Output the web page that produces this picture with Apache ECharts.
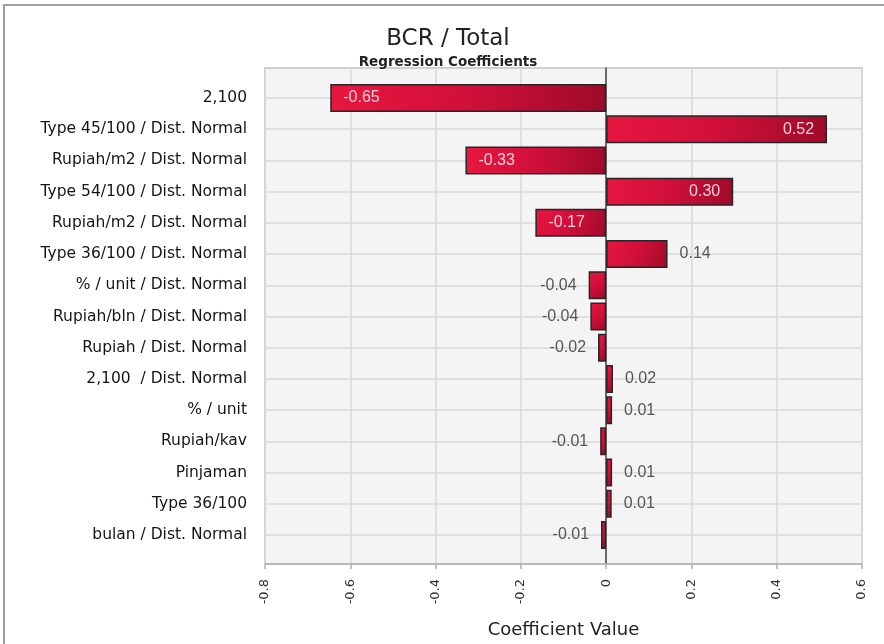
<!DOCTYPE html>
<html><head><meta charset="utf-8">
<script src="https://cdn.jsdelivr.net/npm/echarts@6/dist/echarts.min.js"></script>
<style>html,body{margin:0;padding:0;background:#fff}#c{width:884px;height:644px}</style>
</head><body><div id="c"></div>
<script>
const categories = [
  "2,100",
  "Type 45/100 / Dist. Normal",
  "Rupiah/m2 / Dist. Normal",
  "Type 54/100 / Dist. Normal",
  "Rupiah/m2 / Dist. Normal",
  "Type 36/100 / Dist. Normal",
  "% / unit / Dist. Normal",
  "Rupiah/bln / Dist. Normal",
  "Rupiah / Dist. Normal",
  "2,100  / Dist. Normal",
  "% / unit",
  "Rupiah/kav",
  "Pinjaman",
  "Type 36/100",
  "bulan / Dist. Normal"
];
const coefficients = [-0.647, 0.518, -0.330, 0.298, -0.166, 0.144, -0.041, -0.037, -0.019, 0.016, 0.014, -0.014, 0.014, 0.013, -0.012];
const xMin = -0.8, xMax = 0.6, xInterval = 0.2;
const titleText = "BCR / Total";
const subtitleText = "Regression Coefficients";
const xAxisTitle = "Coefficient Value";

const L = 265, R = 884 - 862;
const barData = coefficients.map(v => {
  const inside = Math.abs(v) > 0.15;
  return {
    value: v,
    label: {
      show: true,
      position: inside ? (v < 0 ? 'insideLeft' : 'insideRight') : (v < 0 ? 'left' : 'right'),
      distance: inside ? 13 : 12,
      color: inside ? '#f4d2da' : '#555',
      fontFamily: 'Liberation Sans',
      fontSize: 16,
      formatter: p => p.value.toFixed(2)
    }
  };
});

const chart = echarts.init(document.getElementById('c'), null, {renderer: 'canvas'});
chart.setOption({
  animation: false,
  backgroundColor: '#fff',
  graphic: [{
    type: 'rect', shape: {x: 4, y: 5, width: 900, height: 700},
    style: {fill: null, stroke: '#a0a0a0', lineWidth: 2}, z: -10
  }],
  title: {
    text: titleText, subtext: subtitleText,
    left: 443, top: 23, textAlign: 'center', itemGap: 4,
    textStyle: {fontFamily: 'DejaVu Sans', fontSize: 23, fontWeight: 'normal', color: '#222'},
    subtextStyle: {fontFamily: 'DejaVu Sans', fontSize: 13.5, fontWeight: 'bold', color: '#222'}
  },
  grid: [
    {left: L, right: R, top: 68, bottom: 644 - 568, show: true, backgroundColor: '#f4f4f4', borderColor: '#cfcfcf', borderWidth: 2},
    {left: L, right: R, top: 82.4, bottom: 644 - 550.6},
    {left: L, right: R, top: 98, bottom: 644 - 535}
  ],
  xAxis: [
    {gridIndex: 0, type: 'value', min: xMin, max: xMax, interval: xInterval,
     axisLine: {show: true, onZero: false, lineStyle: {color: '#b0b0b0', width: 1.5}},
     axisTick: {show: true, length: 5, lineStyle: {color: '#b0b0b0', width: 1.5}},
     splitLine: {show: true, lineStyle: {color: '#d9d9d9', width: 1.5}},
     axisLabel: {rotate: 90, margin: 15, fontFamily: 'DejaVu Sans', fontSize: 13, color: '#333'},
     name: xAxisTitle, nameLocation: 'middle', nameGap: 57,
     nameTextStyle: {fontFamily: 'DejaVu Sans', fontSize: 18, color: '#222'}},
    {gridIndex: 1, type: 'value', min: xMin, max: xMax, show: false},
    {gridIndex: 2, type: 'value', min: xMin, max: xMax, show: false}
  ],
  yAxis: [
    {gridIndex: 0, type: 'value', min: 0, max: 1,
     axisLine: {show: true, onZero: true, lineStyle: {color: '#444', width: 1.5}},
     axisTick: {show: false}, axisLabel: {show: false}, splitLine: {show: false}},
    {gridIndex: 1, type: 'category', inverse: true, data: categories,
     axisLine: {show: false}, axisTick: {show: false},
     axisLabel: {margin: 18, fontFamily: 'DejaVu Sans', fontSize: 15.5, color: '#151515'}},
    {gridIndex: 2, type: 'category', inverse: true, boundaryGap: false, data: categories,
     axisLine: {show: false}, axisTick: {show: false}, axisLabel: {show: false},
     splitLine: {show: true, lineStyle: {color: '#d9d9d9', width: 1.5}}}
  ],
  series: [{
    type: 'bar', xAxisIndex: 1, yAxisIndex: 1, barWidth: 28, z: 3,
    data: barData,
    itemStyle: {
      color: new echarts.graphic.LinearGradient(0, 0, 1, 1, [
        {offset: 0, color: '#e8163f'},
        {offset: 0.5, color: '#d0103a'},
        {offset: 1, color: '#9e0a29'}
      ]),
      borderColor: '#262626', borderWidth: 1.5
    }
  }]
});
</script>
</body></html>
